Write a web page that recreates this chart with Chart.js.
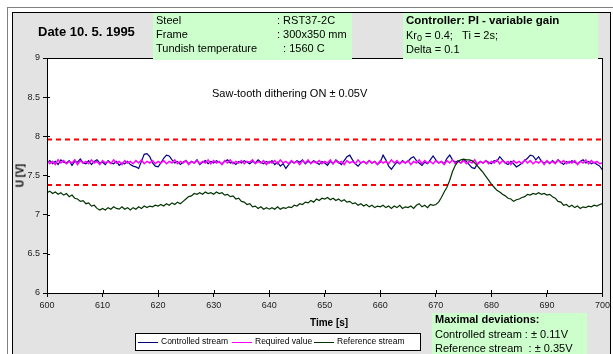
<!DOCTYPE html>
<html>
<head>
<meta charset="utf-8">
<script src="https://cdn.jsdelivr.net/npm/chart.js@4"></script>
<style>
  body { margin: 0; width: 613px; height: 354px; overflow: hidden; background: #fff; font-family: "Liberation Sans", Arial, sans-serif; position: relative; }
  .frameOut { position: absolute; left: 7px; top: 7px; width: 640px; height: 420px; border: 1px solid #808080; background: #fff; }
  .frameIn { position: absolute; left: 12px; top: 12px; width: 597px; height: 420px; border: 1px solid #000; background: #e3e3e3; }
  canvas { position: absolute; left: 0; top: 0; }
  .txt { position: absolute; white-space: nowrap; color: #000; }
  .green { position: absolute; background: #ccffcc; }
  .legend { position: absolute; left: 135px; top: 333px; width: 284px; height: 16px; border: 1px solid #000; background: #fff; font-size: 8.5px; }
  .legend span.item { position: absolute; top: 2px; line-height: 11px; }
  .legend i { position: absolute; top: 6px; left: 0; width: 20px; height: 1px; }
  .legend span.item b { font-weight: normal; margin-left: 23px; }
</style>
</head>
<body>
<div class="frameOut"></div>
<div class="frameIn"></div>
<canvas id="c" width="613" height="354"></canvas>

<div class="txt" style="left:38px;top:24px;font-size:13px;font-weight:bold;">Date 10. 5. 1995</div>

<div class="green" style="left:153px;top:13px;width:199px;height:47px;"></div>
<div class="txt" style="left:156px;top:13px;font-size:11px;line-height:14px;">Steel<br>Frame<br>Tundish temperature</div>
<div class="txt" style="left:277px;top:13px;font-size:11px;line-height:14px;">: RST37-2C<br>: 300x350 mm<br>&nbsp;&nbsp;: 1560 C</div>

<div class="green" style="left:403px;top:13px;width:195px;height:46px;"></div>
<div class="txt" style="left:406px;top:14px;font-size:11.5px;font-weight:bold;">Controller: PI - variable gain</div>
<div class="txt" style="left:406px;top:29px;font-size:11px;">Kr<sub style="font-size:9px;vertical-align:-2px;">0</sub> = 0.4;&nbsp;&nbsp;&nbsp;Ti = 2s;</div>
<div class="txt" style="left:406px;top:43px;font-size:11px;">Delta = 0.1</div>

<div class="txt" style="left:212px;top:87px;font-size:11px;">Saw-tooth dithering ON ± 0.05V</div>

<div class="txt" style="left:3px;top:170px;font-size:10px;font-weight:bold;transform:rotate(-90deg);transform-origin:center;width:34px;text-align:center;">U [V]</div>
<div class="txt" style="left:310px;top:317px;font-size:10px;font-weight:bold;">Time [s]</div>

<div class="legend">
  <span class="item" style="left:2px;"><i style="background:#000080;"></i><b>Controlled stream</b></span>
  <span class="item" style="left:96px;"><i style="background:#ff00ff;"></i><b>Required value</b></span>
  <span class="item" style="left:178px;"><i style="background:#003300;"></i><b>Reference stream</b></span>
</div>

<div class="green" style="left:432px;top:313px;width:155px;height:41px;"></div>
<div class="txt" style="left:435px;top:313px;font-size:11px;font-weight:bold;">Maximal deviations:</div>
<div class="txt" style="left:435px;top:327px;font-size:11px;line-height:14px;">Controlled stream : ± 0.11V<br>Reference stream&nbsp;&nbsp;: ± 0.35V</div>

<script>
// time axis: samples every 0.5 s from 600 s
const T0 = 600
const DT = 0.5

// controlled stream (blue)
const controlled = [
  7.66, 7.69, 7.65, 7.68, 7.64, 7.70, 7.67, 7.66, 7.69, 7.63, 7.68, 7.67, 7.71, 7.66, 7.65, 7.69, 7.64, 7.68, 7.70, 7.66,
  7.67, 7.64, 7.69, 7.66, 7.65, 7.68, 7.63, 7.66, 7.65, 7.68, 7.64, 7.62, 7.61, 7.59, 7.68, 7.77, 7.78, 7.74, 7.66, 7.62,
  7.61, 7.66, 7.72, 7.76, 7.75, 7.70, 7.66, 7.68, 7.64, 7.67, 7.69, 7.65, 7.68, 7.66, 7.70, 7.64, 7.67, 7.69, 7.65, 7.68,
  7.66, 7.69, 7.67, 7.65, 7.68, 7.70, 7.66, 7.67, 7.64, 7.68, 7.66, 7.69, 7.67, 7.65, 7.68, 7.66, 7.70, 7.67, 7.65, 7.68,
  7.66, 7.69, 7.64, 7.67, 7.62, 7.65, 7.59, 7.64, 7.68, 7.66, 7.69, 7.67, 7.70, 7.65, 7.68, 7.66, 7.69, 7.67, 7.64, 7.68,
  7.66, 7.63, 7.68, 7.65, 7.70, 7.67, 7.64, 7.69, 7.74, 7.76, 7.70, 7.65, 7.62, 7.66, 7.68, 7.65, 7.69, 7.66, 7.68, 7.64,
  7.67, 7.76, 7.70, 7.62, 7.58, 7.63, 7.67, 7.65, 7.69, 7.66, 7.68, 7.72, 7.74, 7.69, 7.66, 7.63, 7.67, 7.65, 7.70, 7.75,
  7.70, 7.66, 7.68, 7.65, 7.72, 7.76, 7.70, 7.67, 7.69, 7.66, 7.70, 7.68, 7.64, 7.60, 7.59, 7.65, 7.68, 7.66, 7.69, 7.67,
  7.65, 7.69, 7.68, 7.74, 7.70, 7.66, 7.64, 7.68, 7.65, 7.61, 7.63, 7.66, 7.69, 7.72, 7.76, 7.75, 7.70, 7.74, 7.68, 7.66,
  7.68, 7.65, 7.69, 7.66, 7.70, 7.67, 7.64, 7.68, 7.66, 7.69, 7.67, 7.65, 7.68, 7.70, 7.66, 7.68, 7.65, 7.67, 7.64, 7.62,
  7.57
]

// required value (magenta)
const required = [
  7.69, 7.65, 7.68, 7.64, 7.70, 7.66, 7.69, 7.65, 7.68, 7.66, 7.70, 7.64, 7.69, 7.66, 7.68, 7.65, 7.70, 7.66, 7.68, 7.64,
  7.69, 7.66, 7.68, 7.65, 7.70, 7.66, 7.68, 7.64, 7.69, 7.66, 7.68, 7.65, 7.69, 7.66, 7.70, 7.65, 7.68, 7.66, 7.69, 7.65,
  7.68, 7.66, 7.69, 7.65, 7.68, 7.66, 7.70, 7.65, 7.68, 7.66, 7.69, 7.64, 7.68, 7.66, 7.69, 7.65, 7.68, 7.66, 7.70, 7.65,
  7.69, 7.66, 7.68, 7.64, 7.69, 7.66, 7.70, 7.65, 7.68, 7.66, 7.69, 7.65, 7.68, 7.67, 7.70, 7.65, 7.68, 7.66, 7.69, 7.64,
  7.68, 7.66, 7.69, 7.65, 7.70, 7.66, 7.68, 7.65, 7.69, 7.66, 7.68, 7.64, 7.69, 7.66, 7.70, 7.65, 7.68, 7.66, 7.69, 7.65,
  7.68, 7.66, 7.70, 7.65, 7.69, 7.66, 7.68, 7.64, 7.69, 7.66, 7.68, 7.65, 7.70, 7.66, 7.68, 7.65, 7.69, 7.66, 7.68, 7.64,
  7.69, 7.66, 7.68, 7.65, 7.70, 7.66, 7.69, 7.65, 7.68, 7.66, 7.69, 7.64, 7.68, 7.66, 7.70, 7.65, 7.69, 7.66, 7.68, 7.65,
  7.69, 7.66, 7.68, 7.64, 7.69, 7.66, 7.70, 7.65, 7.68, 7.66, 7.69, 7.65, 7.68, 7.66, 7.70, 7.64, 7.68, 7.66, 7.69, 7.65,
  7.68, 7.66, 7.70, 7.65, 7.69, 7.66, 7.68, 7.64, 7.69, 7.66, 7.68, 7.65, 7.70, 7.66, 7.69, 7.65, 7.68, 7.66, 7.69, 7.64,
  7.69, 7.66, 7.68, 7.65, 7.70, 7.66, 7.69, 7.65, 7.68, 7.66, 7.69, 7.64, 7.68, 7.66, 7.70, 7.65, 7.69, 7.66, 7.68, 7.65,
  7.66
]

// reference stream (dark green)
const reference = [
  7.28, 7.30, 7.27, 7.29, 7.26, 7.28, 7.25, 7.27, 7.23, 7.25, 7.21, 7.20, 7.17, 7.18, 7.14, 7.15, 7.11, 7.12, 7.08, 7.06,
  7.08, 7.06, 7.09, 7.07, 7.10, 7.08, 7.07, 7.10, 7.07, 7.09, 7.06, 7.09, 7.07, 7.10, 7.08, 7.11, 7.09, 7.11, 7.10, 7.12,
  7.11, 7.13, 7.11, 7.14, 7.12, 7.15, 7.13, 7.16, 7.14, 7.17, 7.20, 7.23, 7.24, 7.27, 7.26, 7.28, 7.26, 7.29, 7.27, 7.28,
  7.26, 7.29, 7.27, 7.28, 7.25, 7.26, 7.23, 7.24, 7.20, 7.21, 7.17, 7.16, 7.13, 7.14, 7.10, 7.11, 7.08, 7.10, 7.07, 7.09,
  7.07, 7.09, 7.07, 7.10, 7.07, 7.09, 7.08, 7.10, 7.09, 7.12, 7.11, 7.14, 7.13, 7.16, 7.15, 7.18, 7.16, 7.20, 7.18, 7.21,
  7.20, 7.22, 7.19, 7.21, 7.18, 7.20, 7.17, 7.19, 7.16, 7.17, 7.14, 7.15, 7.12, 7.14, 7.11, 7.13, 7.10, 7.12, 7.09, 7.11,
  7.10, 7.12, 7.09, 7.11, 7.08, 7.11, 7.09, 7.12, 7.08, 7.10, 7.09, 7.11, 7.08, 7.12, 7.14, 7.10, 7.12, 7.09, 7.13, 7.12,
  7.13, 7.16, 7.22, 7.29, 7.35, 7.44, 7.55, 7.63, 7.68, 7.70, 7.71, 7.70, 7.70, 7.69, 7.66, 7.62, 7.58, 7.54, 7.49, 7.44,
  7.39, 7.35, 7.31, 7.29, 7.26, 7.24, 7.21, 7.20, 7.17, 7.19, 7.20, 7.22, 7.23, 7.26, 7.25, 7.27, 7.26, 7.28, 7.26, 7.27,
  7.25, 7.26, 7.23, 7.21, 7.17, 7.16, 7.12, 7.13, 7.10, 7.12, 7.09, 7.11, 7.08, 7.10, 7.09, 7.11, 7.10, 7.12, 7.11, 7.13,
  7.14
]

// tolerance band (red dashed)
const upperLimit = 7.96
const lowerLimit = 7.38

const xTicks = [600, 610, 620, 630, 640, 650, 660, 670, 680, 690, 700]
const yTicks = [6, 6.5, 7, 7.5, 8, 8.5, 9]

function pts(arr) {
    return arr.map((v, i) => ({ x: T0 + i * DT, y: v }))
}
function flat(v) {
    return [{ x: xTicks[0], y: v }, { x: xTicks[xTicks.length - 1], y: v }]
}

// white plot area + border + ticks crossing the axes
const plotFrame = {
    id: 'plotFrame',
    beforeDraw(chart) {
        const { ctx, chartArea: a } = chart
        ctx.save()
        ctx.fillStyle = '#fff'
        ctx.fillRect(a.left, a.top, a.right - a.left, a.bottom - a.top)
        ctx.restore()
    },
    afterDraw(chart) {
        const { ctx, chartArea: a, scales } = chart
        ctx.save()
        ctx.strokeStyle = '#000'
        ctx.lineWidth = 1
        ctx.strokeRect(Math.round(a.left) + 0.5, Math.round(a.top) + 0.5, Math.round(a.right - a.left), Math.round(a.bottom - a.top))
        ctx.beginPath()
        for (const t of xTicks) {
            const x = Math.round(scales.x.getPixelForValue(t)) + 0.5
            ctx.moveTo(x, a.bottom)
            ctx.lineTo(x, a.bottom - 3)
        }
        for (const t of yTicks) {
            const y = Math.round(scales.y.getPixelForValue(t)) + 0.5
            ctx.moveTo(a.left, y)
            ctx.lineTo(a.left + 3, y)
        }
        ctx.stroke()
        ctx.restore()
    }
}

new Chart(document.getElementById('c'), {
    type: 'line',
    data: {
        datasets: [
            { data: pts(reference), borderColor: '#003300', borderWidth: 1.2, order: 0 },
            { data: pts(required), borderColor: '#ff00ff', borderWidth: 1.5, order: 1 },
            { data: pts(controlled), borderColor: '#000080', borderWidth: 1.2, order: 2 },
            { data: flat(upperLimit), borderColor: '#ff0000', borderWidth: 2, borderDash: [5, 4], order: 3 },
            { data: flat(lowerLimit), borderColor: '#ff0000', borderWidth: 2, borderDash: [5, 4], order: 3 }
        ]
    },
    options: {
        responsive: false,
        animation: false,
        devicePixelRatio: 1,
        elements: { point: { radius: 0 }, line: { tension: 0 } },
        layout: { padding: { left: 16, top: 58, right: 10, bottom: 43 } },
        plugins: { legend: { display: false }, tooltip: { enabled: false } },
        scales: {
            x: {
                type: 'linear', min: 600, max: 700,
                afterBuildTicks: (s) => { s.ticks = xTicks.map(v => ({ value: v })) },
                afterFit: (s) => { s.height = 18 },
                grid: { drawOnChartArea: false, tickLength: 4, color: '#000' },
                border: { display: true, color: '#000' },
                ticks: { font: { family: 'Liberation Sans', size: 9 }, color: '#222', padding: 3, maxRotation: 0, callback: (v) => String(v) }
            },
            y: {
                min: 6, max: 9,
                afterBuildTicks: (s) => { s.ticks = yTicks.map(v => ({ value: v })) },
                afterFit: (s) => { s.width = 31 },
                grid: { drawOnChartArea: false, tickLength: 4, color: '#000' },
                border: { display: true, color: '#000' },
                ticks: { font: { family: 'Liberation Sans', size: 9 }, color: '#222', padding: 3, callback: (v) => String(v) }
            }
        }
    },
    plugins: [plotFrame]
})
</script>
</body>
</html>
